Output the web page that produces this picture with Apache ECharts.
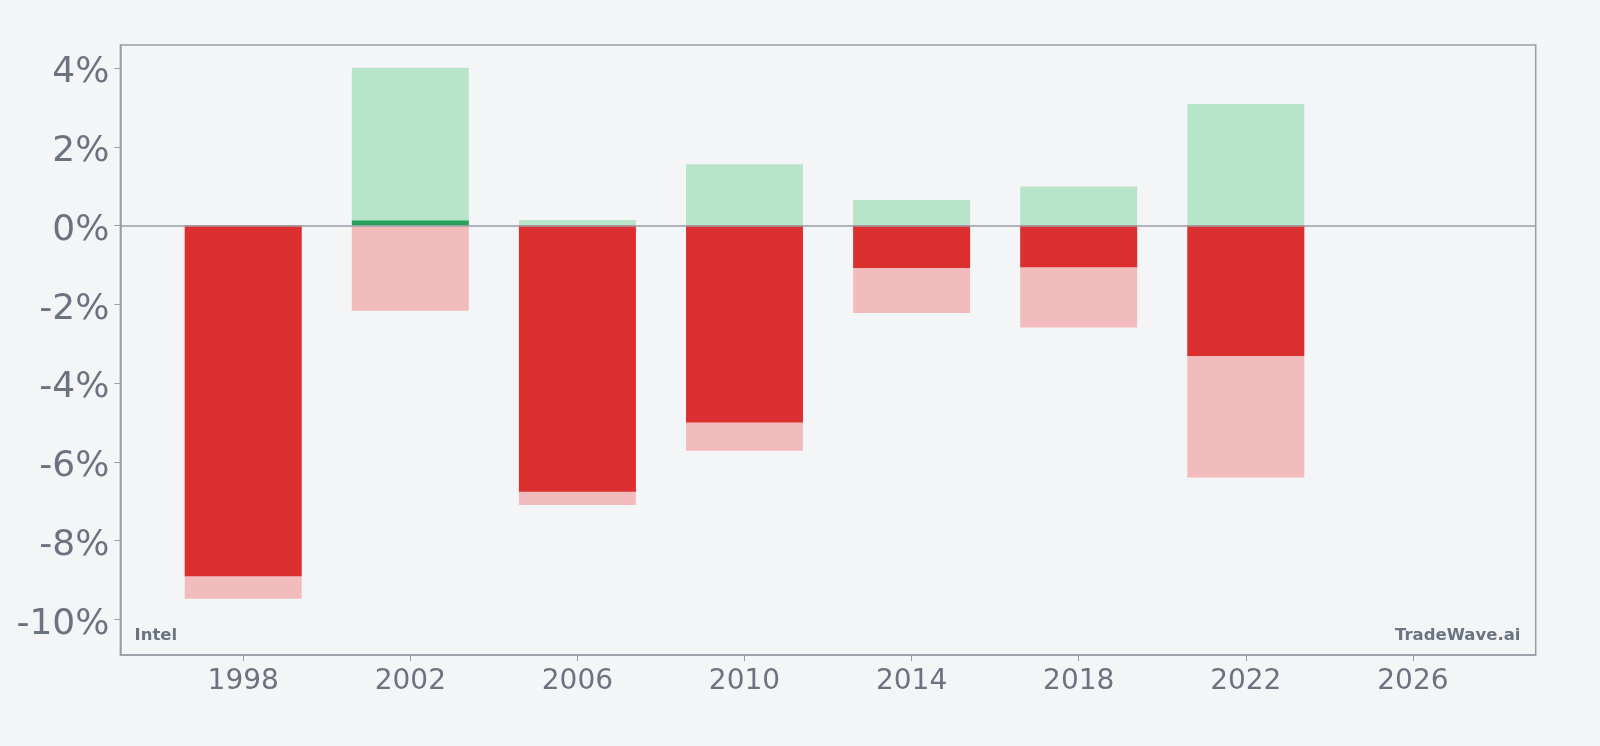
<!DOCTYPE html>
<html>
<head>
<meta charset="utf-8">
<script src="https://cdn.jsdelivr.net/npm/echarts@6/dist/echarts.min.js"></script>
<style>
  html, body { margin: 0; padding: 0; background: #f4f5f7; }
  #chart { width: 1600px; height: 746px; }
</style>
</head>
<body>
<div id="chart"></div>
<script>
// data (percent)
const years = [1998, 2002, 2006, 2010, 2014, 2018, 2022];
const closeRet = [-8.91, 0.13, -6.76, -5.0, -1.08, -1.06, -3.31];
const maxGain = [0, 4.01, 0.145, 1.56, 0.65, 0.99, 3.09];
const maxDrop = [-9.48, -2.16, -7.1, -5.72, -2.22, -2.59, -6.4];
const yTicks = [-10, -8, -6, -4, -2, 0, 2, 4];
const xTicks = [1998, 2002, 2006, 2010, 2014, 2018, 2022, 2026];

const BAR_W = 2.8; // years
const TEXT = '#6b7280';
const FRAME = '#9a9ca8';

const pairs = (vals) => years.map((y, i) => [y, vals[i]]);

// bar from 0 to the value, width in axis units
const barItem = (colorFn) => (params, api) => {
  const x = api.value(0);
  const v = api.value(1);
  if (!v) return;
  const p0 = api.coord([x - BAR_W / 2, 0]);
  const p1 = api.coord([x + BAR_W / 2, v]);
  return {
    type: 'rect',
    shape: {
      x: p0[0],
      y: Math.min(p0[1], p1[1]),
      width: p1[0] - p0[0],
      height: Math.abs(p1[1] - p0[1]),
    },
    style: { fill: colorFn(v) },
  };
};

const myChart = echarts.init(document.getElementById('chart'), null, { renderer: 'canvas' });

myChart.setOption({
  backgroundColor: '#f4f5f7',
  animation: false,
  textStyle: { fontFamily: 'DejaVu Sans' },
  grid: {
    left: 120.4,
    right: 64.3,
    top: 44.9,
    bottom: 90.9,
    show: true,
    borderColor: FRAME,
    borderWidth: 1.5,
    backgroundColor: 'transparent',
  },
  xAxis: {
    type: 'value',
    min: 1995.06,
    max: 2028.94,
    splitLine: { show: false },
    axisLine: { show: true, onZero: false, lineStyle: { color: FRAME, width: 1.5 } },
    axisTick: { show: true, length: 6, lineStyle: { color: FRAME }, customValues: xTicks },
    axisLabel: {
      color: TEXT,
      fontSize: 28,
      margin: 13,
      customValues: xTicks,
      formatter: (v) => String(v),
    },
  },
  yAxis: {
    type: 'value',
    min: -10.91,
    max: 4.59,
    splitLine: { show: false },
    axisLine: { show: true, onZero: false, lineStyle: { color: FRAME, width: 1.5 } },
    axisTick: { show: true, length: 6, lineStyle: { color: FRAME }, customValues: yTicks },
    axisLabel: {
      color: TEXT,
      fontSize: 36,
      margin: 11,
      customValues: yTicks,
      formatter: (v) => '{t|' + v + '%}',
      rich: {
        t: { color: TEXT, fontSize: 36, padding: [10, 0, 0, 0] },
      },
    },
  },
  series: [
    {
      name: 'max gain',
      type: 'custom',
      renderItem: barItem(() => '#b8e4c9'),
      data: pairs(maxGain),
      z: 1,
    },
    {
      name: 'max drop',
      type: 'custom',
      renderItem: barItem(() => '#f3bcbc'),
      data: pairs(maxDrop),
      z: 1,
    },
    {
      name: 'return',
      type: 'custom',
      renderItem: barItem((v) => (v > 0 ? '#26a05a' : '#dc3030')),
      data: pairs(closeRet),
      z: 2,
      markLine: {
        silent: true,
        symbol: 'none',
        label: { show: false },
        lineStyle: { color: FRAME, type: 'solid', width: 1.5 },
        data: [{ yAxis: 0 }],
        z: 5,
      },
    },
  ],
  graphic: [
    {
      type: 'text',
      left: 134.5,
      top: 627,
      style: { text: 'Intel', fill: TEXT, font: 'bold 16.5px "DejaVu Sans"' },
    },
    {
      type: 'text',
      right: 79.5,
      top: 627,
      style: { text: 'TradeWave.ai', fill: TEXT, font: 'bold 16.5px "DejaVu Sans"' },
    },
  ],
});
</script>
</body>
</html>
